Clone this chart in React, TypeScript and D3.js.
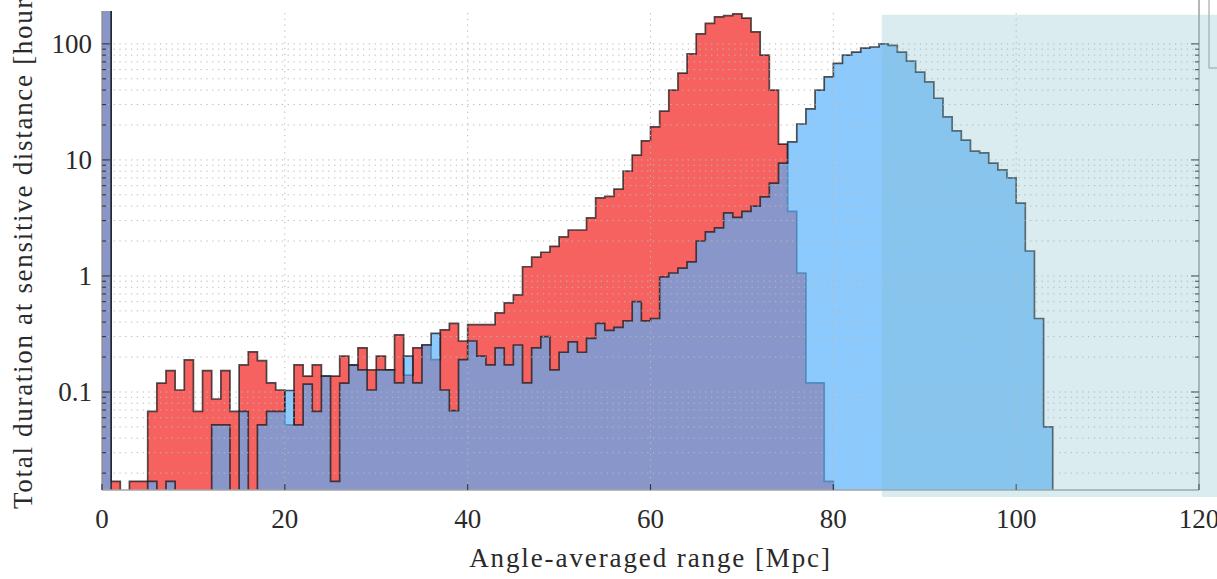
import React, { useEffect, useRef } from 'react';
import { select, scaleLinear, scaleLog, area, line, curveStepAfter, range } from 'd3';

// hours spent in each 1 Mpc range bin, bin i covers [i, i+1)
const binWidth = 1;
const redHours = [
  1500, 0.017, 0, 0.017, 0.017, 0.068, 0.119, 0.153, 0.104, 0.189,
  0.068, 0.153, 0.087, 0.153, 0.068, 0.171, 0.222, 0.186, 0.12, 0.104,
  0.052, 0.171, 0.137, 0.171, 0.137, 0.137, 0.204, 0.171, 0.24, 0.155,
  0.204, 0.155, 0.31, 0.14, 0.24, 0.254, 0.19, 0.343, 0.39, 0.275,
  0.38, 0.38, 0.38, 0.48, 0.585, 0.686, 1.2, 1.45, 1.6, 1.8,
  2.17, 2.49, 2.49, 3.16, 4.7, 4.85, 5.6, 8.0, 11, 14.6,
  19.3, 26.3, 40, 56, 82, 122, 150, 171, 175, 181,
  167, 127, 80, 40, 13.7, 3.6, 1.06, 0.12, 0.12, 0.017,
];
const blueHours = [
  1500, 0, 0, 0, 0, 0.017, 0, 0.017, 0, 0,
  0, 0, 0.052, 0.052, 0, 0.068, 0, 0.052, 0.068, 0.068,
  0.103, 0.052, 0.117, 0.068, 0.137, 0.017, 0.119, 0.17, 0.155, 0.104,
  0.155, 0.155, 0.12, 0.204, 0.12, 0.254, 0.32, 0.104, 0.069, 0.19,
  0.275, 0.204, 0.171, 0.24, 0.171, 0.254, 0.12, 0.24, 0.3, 0.155,
  0.22, 0.27, 0.22, 0.29, 0.39, 0.34, 0.36, 0.41, 0.6, 0.41,
  0.43, 0.98, 1.06, 1.17, 1.32, 2.0, 2.4, 2.6, 3.5, 3.2,
  3.6, 4.0, 4.8, 6.3, 9.4, 14.3, 20.4, 27.5, 40, 52,
  68, 80, 85, 92, 94, 100, 97, 85, 71, 57,
  47, 34, 23.5, 17.8, 14.8, 11.9, 11.5, 9.4, 8.2, 7.0,
  4.25, 1.64, 0.43, 0.05,
];
const xTicks = [0, 20, 40, 60, 80, 100, 120];
const yTicks = [0.1, 1, 10, 100];
const yTickLabels = ['0.1', '1', '10', '100'];
const shadedRange = [85.3, 123];
const shadedTop = 178;
const xLabel = 'Angle-averaged range [Mpc]';
const yLabel = 'Total duration at sensitive distance [hours]';

const W = 1217;
const H = 579;
const margin = { left: 102, right: 18, top: 11, bottom: 89 };
const font = 'Liberation Serif';

export default function App() {
  const svgRef = useRef(null);

  useEffect(() => {
    const svg = select(svgRef.current);
    svg.selectAll('*').remove();
    const iw = W - margin.left - margin.right;
    const ih = H - margin.top - margin.bottom;

    const x = scaleLinear().domain([0, 120]).range([0, iw]);
    const y = scaleLog().domain([0.0143, 192]).range([ih, 0]);

    // legend frame, mostly cropped off at the right
    svg
      .append('rect')
      .attr('x', 1209)
      .attr('y', -2)
      .attr('width', 40)
      .attr('height', 70)
      .attr('fill', '#fff')
      .attr('stroke', '#aaa')
      .attr('stroke-width', 1.2);

    const g = svg
      .append('g')
      .attr('transform', `translate(${margin.left},${margin.top})`);

    svg
      .append('defs')
      .append('clipPath')
      .attr('id', 'plot-clip')
      .append('rect')
      .attr('width', iw)
      .attr('height', ih);

    const floor = y.domain()[0] / 10;
    const toPoints = (vals) => [
      { x: 0, v: floor },
      ...vals.map((v, i) => ({ x: i * binWidth, v: v > 0 ? v : floor })),
      { x: vals.length * binWidth, v: floor },
    ];
    const fillArea = area()
      .x((d) => x(d.x))
      .y0(ih + 30)
      .y1((d) => y(d.v))
      .curve(curveStepAfter);
    const edge = line()
      .x((d) => x(d.x))
      .y((d) => y(d.v))
      .curve(curveStepAfter);

    const hist = g.append('g').attr('clip-path', 'url(#plot-clip)');
    const series = [
      { vals: redHours, fill: 'rgb(246,98,96)', opacity: 1 },
      { vals: blueHours, fill: 'rgb(86,176,250)', opacity: 0.68 },
    ];
    series.forEach((s) => {
      const pts = toPoints(s.vals);
      hist
        .append('path')
        .attr('d', fillArea(pts))
        .attr('fill', s.fill)
        .attr('fill-opacity', s.opacity);
      hist
        .append('path')
        .attr('d', edge(pts))
        .attr('fill', 'none')
        .attr('stroke', 'rgba(25,25,25,0.75)')
        .attr('stroke-width', 1.7);
    });

    // shaded band
    svg
      .append('rect')
      .attr('x', margin.left + x(shadedRange[0]))
      .attr('y', margin.top + y(shadedTop))
      .attr('width', x(shadedRange[1]) - x(shadedRange[0]))
      .attr('height', ih + 7 - y(shadedTop))
      .attr('fill', 'rgb(123,187,201)')
      .attr('fill-opacity', 0.28);

    // grid
    const minor = [];
    range(-2, 3).forEach((k) => {
      range(1, 10).forEach((m) => {
        const v = m * Math.pow(10, k);
        if (v >= y.domain()[0] && v <= y.domain()[1]) minor.push(v);
      });
    });
    const grid = g.append('g').attr('stroke', '#b9b9b9').attr('stroke-width', 1).attr('stroke-dasharray', '1.3,4.5');
    grid
      .selectAll('.hg')
      .data(minor)
      .join('line')
      .attr('x1', 0)
      .attr('x2', iw)
      .attr('y1', (d) => y(d))
      .attr('y2', (d) => y(d));
    grid
      .selectAll('.vg')
      .data(xTicks.slice(1, -1))
      .join('line')
      .attr('x1', (d) => x(d))
      .attr('x2', (d) => x(d))
      .attr('y1', 2)
      .attr('y2', ih);

    // spines
    const spine = g.append('g').attr('stroke', '#a4a4a4').attr('stroke-width', 1.6);
    spine.append('line').attr('x1', 0).attr('x2', iw).attr('y1', ih).attr('y2', ih);
    spine.append('line').attr('x1', iw).attr('x2', iw).attr('y1', -margin.top).attr('y2', ih);
    spine.append('line').attr('x1', 0).attr('x2', 0).attr('y1', 0).attr('y2', ih);

    // ticks
    const isMajor = (v) => yTicks.some((t) => Math.abs(t - v) < 1e-9);
    const tk = g.append('g').attr('stroke', '#333').attr('stroke-width', 1.1);
    tk.selectAll('.lt')
      .data(minor)
      .join('line')
      .attr('x1', 0)
      .attr('x2', (d) => (isMajor(d) ? 8 : 4))
      .attr('y1', (d) => y(d))
      .attr('y2', (d) => y(d));
    tk.selectAll('.rt')
      .data(minor)
      .join('line')
      .attr('x1', iw)
      .attr('x2', (d) => iw - (isMajor(d) ? 8 : 4))
      .attr('y1', (d) => y(d))
      .attr('y2', (d) => y(d));
    tk.selectAll('.bt')
      .data(xTicks)
      .join('line')
      .attr('x1', (d) => x(d))
      .attr('x2', (d) => x(d))
      .attr('y1', ih)
      .attr('y2', ih - 6);

    // tick labels
    g.selectAll('.xl')
      .data(xTicks)
      .join('text')
      .attr('x', (d) => x(d))
      .attr('y', ih + 38)
      .attr('text-anchor', 'middle')
      .attr('font-family', font)
      .attr('font-size', 27)
      .attr('fill', '#2a2a2a')
      .text((d) => d);
    g.selectAll('.yl')
      .data(yTicks)
      .join('text')
      .attr('x', -10)
      .attr('y', (d) => y(d))
      .attr('dy', '0.33em')
      .attr('text-anchor', 'end')
      .attr('font-family', font)
      .attr('font-size', 27)
      .attr('fill', '#2a2a2a')
      .text((d, i) => yTickLabels[i]);

    // axis titles
    g.append('text')
      .attr('x', iw / 2)
      .attr('y', ih + 77)
      .attr('text-anchor', 'middle')
      .attr('font-family', font)
      .attr('font-size', 27)
      .attr('letter-spacing', 1.9)
      .attr('fill', '#2a2a2a')
      .text(xLabel);
    svg
      .append('text')
      .attr('transform', `translate(32,509) rotate(-90)`)
      .attr('text-anchor', 'start')
      .attr('font-family', font)
      .attr('font-size', 27)
      .attr('letter-spacing', 1.7)
      .attr('fill', '#2a2a2a')
      .text(yLabel);
  }, []);

  return (
    <svg
      ref={svgRef}
      width={W}
      height={H}
      style={{ position: 'absolute', left: 0, top: 0, background: '#fff' }}
    />
  );
}
